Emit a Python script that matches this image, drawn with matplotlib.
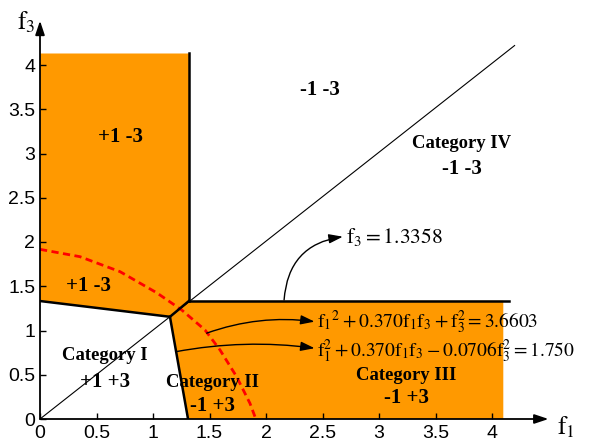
import matplotlib
matplotlib.use("Agg")
import matplotlib.pyplot as plt
from matplotlib.patches import Polygon

plt.rcParams['mathtext.fontset'] = 'stix'
plt.rcParams['font.family'] = ['Liberation Sans', 'DejaVu Sans']

# ---------------- data ----------------
# decision-boundary vertices (f1, f3)
left_end = (0.0, 1.333)
junction_low = (1.15, 1.155)
junction_high = (1.32, 1.336)
bottom_end = (1.31, 0.0)
top_end = (1.32, 4.13)
right_end = (4.15, 1.336)
shade_right = 4.1
shade_top = 4.13

# diagonal f3 = f1
diag_f1 = [0.0, 4.2]
diag_f3 = [0.0, 4.22]

# red dashed ellipse f1^2 + 0.370 f1 f3 + f3^2 = 3.6603
ell_f1 = [0.0, 0.354, 0.708, 1.032, 1.254, 1.46, 1.593, 1.74, 1.858, 1.91]
ell_f3 = [1.917, 1.834, 1.665, 1.427, 1.232, 1.006, 0.78, 0.478, 0.177, 0.0]

x_ticks = [0, 0.5, 1, 1.5, 2, 2.5, 3, 3.5, 4]
y_ticks = [0, 0.5, 1, 1.5, 2, 2.5, 3, 3.5, 4]

category_names = ['Category I', 'Category II', 'Category III', 'Category IV']
category_pos = [(0.575, 0.715), (1.53, 0.41), (3.245, 0.497), (3.73, 3.115)]
sign_labels = ['+1 +3', '-1 +3', '-1 +3', '-1 -3', '+1 -3', '+1 -3', '-1 -3']
sign_pos = [(0.575, 0.42), (1.53, 0.147), (3.245, 0.234), (3.73, 2.83),
            (0.708, 3.19), (0.43, 1.50), (2.48, 3.72)]

eq_texts = [r'$\mathrm{f}_1{}^{2}+0.370\mathrm{f}_1\mathrm{f}_3+\mathrm{f}_3^2=3.6603$',
            r'$\mathrm{f}_1^2+0.370\mathrm{f}_1\mathrm{f}_3-0.0706\mathrm{f}_3^2=1.750$',
            r'$\mathrm{f}_3=1.3358$']
eq_text_pos = [(2.45, 1.09), (2.45, 0.76), (2.71, 2.06)]
eq_font = [14, 14, 15.5]
eq_arrow_start = [(1.475, 0.97), (1.2, 0.76), (2.16, 1.345)]
eq_arrow_end = [(2.43, 1.10), (2.43, 0.80), (2.68, 2.06)]
eq_arrow_rad = [-0.12, -0.08, -0.4]

orange = '#FF9900'

# ---------------- figure ----------------
fig = plt.figure(figsize=(5.92, 4.42), dpi=100)
ax = fig.add_axes([40 / 592, 23 / 442, 4.5 * 113 / 592, 4.5 * 88.5 / 442])
ax.set_xlim(0, 4.5)
ax.set_ylim(0, 4.5)

# shaded regions
upper_left = [(0, shade_top), left_end, junction_low, junction_high, (top_end[0], shade_top)]
lower_right = [junction_low, junction_high, (shade_right, junction_high[1]),
               (shade_right, 0), bottom_end]
ax.add_patch(Polygon(upper_left, closed=True, facecolor=orange, edgecolor='none', zorder=1))
ax.add_patch(Polygon(lower_right, closed=True, facecolor=orange, edgecolor='none', zorder=1))

# diagonal
ax.plot(diag_f1, diag_f3, color='black', lw=0.8, zorder=2)

# ellipse
ax.plot(ell_f1, ell_f3, color='#FF0000', lw=2.0, ls=(0, (2.6, 1.6)), zorder=3)

# boundaries
bk = dict(color='black', lw=1.8, zorder=4, solid_joinstyle='miter')
ax.plot([left_end[0], junction_low[0]], [left_end[1], junction_low[1]], **bk)
ax.plot([junction_low[0], junction_high[0]], [junction_low[1], junction_high[1]], **bk)
ax.plot([junction_low[0], bottom_end[0]], [junction_low[1], bottom_end[1]], **bk)
ax.plot([junction_high[0], top_end[0]], [junction_high[1], top_end[1]], **bk)
ax.plot([junction_high[0], right_end[0]], [junction_high[1], right_end[1]], **bk)

# text labels
for name, (x, y) in zip(category_names, category_pos):
    ax.text(x, y, name, ha='center', va='center', fontsize=13.4, fontweight='bold',
            family='Liberation Serif', zorder=5)
for s, (x, y) in zip(sign_labels, sign_pos):
    ax.text(x, y, s, ha='center', va='center', fontsize=15, fontweight='bold',
            family='Liberation Serif', zorder=5)

# equations with curved arrows
astyle = '-|>,head_length=0.6,head_width=0.2'
for t, (tx, ty), fs, st, en, r in zip(eq_texts, eq_text_pos, eq_font, eq_arrow_start,
                                      eq_arrow_end, eq_arrow_rad):
    ax.text(tx, ty, t, ha='left', va='center', fontsize=fs, zorder=5)
    ax.annotate('', xy=en, xytext=st,
                arrowprops=dict(arrowstyle=astyle, color='black', lw=1.0,
                                mutation_scale=14, shrinkA=0, shrinkB=0,
                                connectionstyle=f'arc3,rad={r}'), zorder=5)

# axes styling
for sp in ax.spines.values():
    sp.set_visible(False)
ax.annotate('', xy=(1, 0), xycoords='axes fraction', xytext=(0, 0),
            arrowprops=dict(arrowstyle=astyle, color='black', lw=1.3, mutation_scale=14,
                            shrinkA=0, shrinkB=0), zorder=6)
ax.annotate('', xy=(0, 1), xycoords='axes fraction', xytext=(0, 0),
            arrowprops=dict(arrowstyle=astyle, color='black', lw=1.3, mutation_scale=14,
                            shrinkA=0, shrinkB=0), zorder=6)
ax.set_xticks(x_ticks)
ax.set_yticks(y_ticks)
ax.set_xticklabels([f'{v:g}' for v in x_ticks])
ax.set_yticklabels([f'{v:g}' for v in y_ticks])
ax.tick_params(direction='in', length=4, width=1, labelsize=14)
ax.tick_params(axis='y', pad=3.5)
ax.tick_params(axis='x', pad=4)

fig.text(557 / 592, 1 - 440 / 442, r'$\mathrm{f}_1$', ha='left', va='bottom', fontsize=18)
fig.text(17 / 592, 1 - 35 / 442, r'$\mathrm{f}_3$', ha='left', va='bottom', fontsize=18)

fig.savefig('out.png', dpi=100)
